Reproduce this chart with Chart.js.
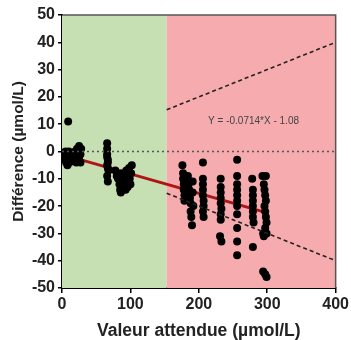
<!DOCTYPE html>
<html>
<head>
<meta charset="utf-8">
<script src="https://cdn.jsdelivr.net/npm/chart.js@4.4.1/dist/chart.umd.min.js"></script>
<style>
  html, body { margin: 0; padding: 0; background: #fff; }
  #wrap { width: 351px; height: 340px; }
</style>
</head>
<body>
<div id="wrap"><canvas id="scatterChart" width="351" height="340"></canvas></div>
<script>
// measured points (expected value, difference)
var ptX = [9, 3, 4, 5, 5, 6, 7, 7, 8, 8, 9, 10, 10, 11, 12, 13, 14,
  18, 19, 20, 21, 22, 23, 24, 25, 25, 26, 27, 27, 28,
  66, 66, 66, 66, 67, 67, 66, 67, 68, 66, 67,
  78, 80, 82, 84, 85, 86, 87, 88, 89, 90, 91, 92, 93, 94, 95, 96, 97, 98, 99, 100, 101, 102,
  176, 177, 177, 178, 178, 179, 179, 180, 181, 182, 184, 185, 186, 187, 188, 188, 189, 190, 191, 191, 192,
  206, 206, 206, 206, 206, 207, 207, 206, 207,
  232, 232, 232, 232, 232, 233, 232, 232, 231, 233,
  256, 256, 256, 256, 256, 256, 256, 256, 256, 256, 256,
  278, 279, 279, 279, 279, 279, 279, 280, 279,
  293, 298, 295, 296, 297, 298, 296, 297, 298, 299, 297, 294, 299, 295, 294, 297, 299];
var ptY = [11, -1, -2, -3, 0, -4, -1, -2, -3, -5, -2, 0, -3, -4, -1, -3, -2,
  -2, 0, -3, -4, 1, -1, -2, 2, -3, 0, -1, -4, 1,
  3, 1, -1, -2, -3, -4, -5, -6, -7, -9, -11,
  -7, -9, -10, -12, -14, -15, -11, -8, -13, -9, -12, -10, -14, -7, -11, -13, -9, -6, -10, -12, -8, -5,
  -5, -8, -10, -12, -14, -16, -18, -11, -13, -15, -9, -12, -14, -17, -19, -22, -24, -27, -11, -15, -20,
  -4, -10, -12, -14, -16, -18, -20, -22, -24,
  -10, -13, -15, -17, -19, -21, -23, -25, -31, -33,
  -3, -9, -12, -14, -16, -18, -20, -23, -28, -33, -38,
  -10, -14, -16, -18, -20, -22, -24, -26, -35,
  -9, -9, -12, -14, -16, -18, -20, -22, -24, -26, -28, -30, -30, -31, -44, -45, -46];

// regression Y = -0.0714*X - 1.08
var regX = [5, 300];
var regY = [-1.4, -22.5];

// +/-10% limits
var limX = [153, 400];
var upY = [15.3, 40];
var lowY = [-15.3, -40];

var zeroX = [0, 400];
var zeroY = [0, 0];

var xTicks = [0, 100, 200, 300, 400];
var yTicks = [-50, -40, -30, -20, -10, 0, 10, 20, 30, 40, 50];
var zoneEdge = 153;

function pairs(xs, ys) {
  return xs.map(function (x, i) { return { x: x, y: ys[i] }; });
}

var zones = {
  id: 'zones',
  beforeDatasetsDraw: function (chart) {
    var c = chart.ctx, a = chart.chartArea, xs = chart.scales.x;
    var e = xs.getPixelForValue(zoneEdge);
    c.save();
    c.fillStyle = '#c6e0b4';
    c.fillRect(a.left, a.top, e - a.left, a.bottom - a.top);
    c.fillStyle = '#f6acae';
    c.fillRect(e, a.top, a.right - e, a.bottom - a.top);
    // frame top / right
    c.strokeStyle = '#555';
    c.lineWidth = 1.5;
    c.beginPath();
    c.moveTo(a.left, a.top);
    c.lineTo(a.right, a.top);
    c.lineTo(a.right, a.bottom);
    c.stroke();
    c.restore();
  },
  afterDatasetsDraw: function (chart) {
    var c = chart.ctx;
    c.save();
    c.fillStyle = '#444';
    c.font = '10px "Liberation Sans", Arial, sans-serif';
    c.textAlign = 'center';
    c.textBaseline = 'middle';
    c.fillText('Y = -0.0714*X - 1.08', chart.scales.x.getPixelForValue(280), chart.scales.y.getPixelForValue(11));
    c.restore();
  }
};

var fnt = { family: '"Liberation Sans", Arial, sans-serif', weight: 'bold' };

var ctx = document.getElementById('scatterChart').getContext('2d');
var myChart = new Chart(ctx, {
  type: 'scatter',
  data: {
    datasets: [
      {
        data: pairs(zeroX, zeroY),
        showLine: true,
        borderColor: '#555',
        borderWidth: 1.3,
        borderDash: [2, 3],
        pointRadius: 0
      },
      {
        data: pairs(limX, upY),
        showLine: true,
        borderColor: '#222',
        borderWidth: 1.6,
        borderDash: [4, 3],
        pointRadius: 0
      },
      {
        data: pairs(limX, lowY),
        showLine: true,
        borderColor: '#222',
        borderWidth: 1.6,
        borderDash: [4, 3],
        pointRadius: 0
      },
      {
        data: pairs(ptX, ptY),
        backgroundColor: '#000',
        borderColor: '#000',
        pointRadius: 4,
        borderWidth: 0
      },
      {
        data: pairs(regX, regY),
        showLine: true,
        borderColor: '#b01515',
        borderWidth: 3,
        pointRadius: 0
      }
    ]
  },
  options: {
    responsive: false,
    animation: false,
    layout: { padding: { top: 15, right: 15, left: 0, bottom: 0 } },
    plugins: { legend: { display: false }, tooltip: { enabled: false } },
    scales: {
      x: {
        type: 'linear',
        min: 0,
        max: 400,
        afterBuildTicks: function (s) { s.ticks = xTicks.map(function (v) { return { value: v }; }); },
        afterFit: function (s) { s.height = 52; },
        grid: { drawOnChartArea: false, drawTicks: true, tickLength: 5, color: '#000', lineWidth: 1.5 },
        border: { display: true, color: '#000', width: 2 },
        ticks: { color: '#222', font: Object.assign({ size: 16 }, fnt), padding: 2, maxRotation: 0 },
        title: { display: true, text: 'Valeur attendue (µmol/L)', color: '#222', font: Object.assign({ size: 17.5, lineHeight: 1 }, fnt), padding: { top: 0, bottom: 0 } }
      },
      y: {
        type: 'linear',
        min: -50,
        max: 50,
        afterBuildTicks: function (s) { s.ticks = yTicks.map(function (v) { return { value: v }; }); },
        afterFit: function (s) { s.width = 62; },
        grid: { drawOnChartArea: false, drawTicks: true, tickLength: 4, color: '#000', lineWidth: 1.5 },
        border: { display: true, color: '#000', width: 2 },
        ticks: { color: '#222', font: Object.assign({ size: 16 }, fnt), padding: 3 },
        title: { display: true, text: 'Différence (µmol/L)', color: '#222', font: Object.assign({ size: 15.5, lineHeight: 1.2 }, fnt), padding: { top: 9, bottom: 0 } }
      }
    }
  },
  plugins: [zones]
});
</script>
</body>
</html>
